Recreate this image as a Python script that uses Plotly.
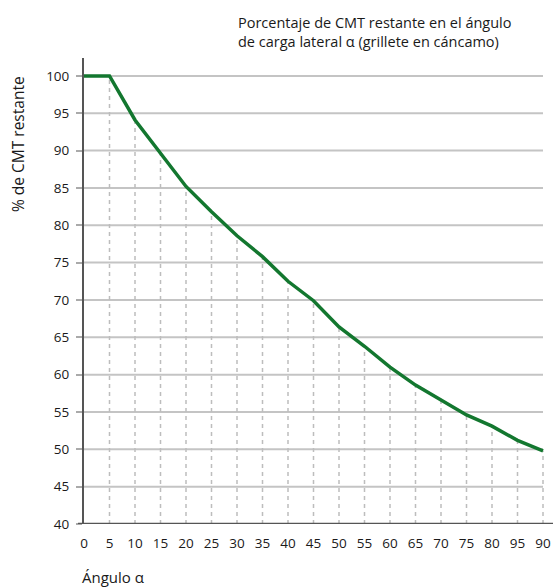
import plotly.graph_objects as go

angles = [0, 5, 10, 15, 20, 25, 30, 35, 40, 45, 50, 55, 60, 65, 70, 75, 80, 85, 90]
tick_labels = ["0", "5", "10", "15", "20", "25", "30", "35", "40", "45", "50",
               "55", "60", "65", "70", "75", "80", "95", "90"]
pct_remaining = [100, 100, 94.1, 89.6, 85.2, 81.8, 78.6, 75.8, 72.5, 69.9, 66.4,
                 63.8, 61.0, 58.6, 56.6, 54.6, 53.1, 51.2, 49.8]
y_ticks = [40, 45, 50, 55, 60, 65, 70, 75, 80, 85, 90, 95, 100]

FONT = "Open Sans"
GRID = "#c4c4c4"
DROP = "#bdbdbd"
AXIS = "#555555"
GREEN = "#13772f"

fig = go.Figure()

# horizontal gridlines (0..90)
gx, gy = [], []
for v in y_ticks[1:]:
    gx += [angles[0], angles[-1], None]
    gy += [v, v, None]
fig.add_trace(go.Scatter(x=gx, y=gy, mode="lines", line=dict(color=GRID, width=2),
                         hoverinfo="skip", showlegend=False))

# dashed drop lines
dx, dy = [], []
for a, v in zip(angles[1:], pct_remaining[1:]):
    dx += [a, a, None]
    dy += [y_ticks[0], v, None]
fig.add_trace(go.Scatter(x=dx, y=dy, mode="lines",
                         line=dict(color=DROP, width=1.5, dash="4px,4px"),
                         hoverinfo="skip", showlegend=False))

fig.add_trace(go.Scatter(x=angles, y=pct_remaining, mode="lines",
                         line=dict(color=GREEN, width=3.5), showlegend=False))

PW, PH = 469, 466

fig.update_layout(
    width=553, height=588,
    margin=dict(l=84, r=0, t=58, b=64),
    paper_bgcolor="white", plot_bgcolor="white",
    font=dict(family=FONT, size=13, color="#1a1a1a"),
    xaxis=dict(range=[0, 91.96], tickvals=angles, ticktext=tick_labels,
               showgrid=False, zeroline=False, showline=False, ticks="",
               ticklabelstandoff=9, tickfont=dict(size=13.5)),
    yaxis=dict(range=[40, 102.4], tickvals=y_ticks, showgrid=False, zeroline=False,
               showline=True, linecolor=AXIS, linewidth=2,
               ticks="outside", ticklen=6, tickcolor="#aaaaaa", tickwidth=1.5,
               ticklabelstandoff=4, tickfont=dict(size=13.5)),
    shapes=[
        dict(type="line", xref="paper", yref="y", x0=-6/PW, x1=1, y0=40, y1=40,
             line=dict(color=AXIS, width=2.5)),
    ],
    annotations=[
        dict(text="Porcentaje de CMT restante en el ángulo<br>de carga lateral α (grillete en cáncamo)",
             xref="paper", yref="paper", x=(236-84)/PW, y=1 + (58-11)/PH,
             xanchor="left", yanchor="top", align="left", showarrow=False,
             font=dict(size=14.5)),
        dict(text="% de CMT restante", xref="paper", yref="paper",
             x=(18-84)/PW, y=(524-144)/PH, xanchor="center", yanchor="middle",
             textangle=-90, showarrow=False, font=dict(size=15.5)),
        dict(text="Ángulo α", xref="paper", yref="paper",
             x=(80-84)/PW, y=-(577-524)/PH, xanchor="left", yanchor="middle",
             showarrow=False, font=dict(size=15)),
    ],
)

fig.write_html(
    "out.html",
    config={"displayModeBar": False},
    post_script="document.body.style.margin='0';document.body.style.overflow='hidden';",
)
